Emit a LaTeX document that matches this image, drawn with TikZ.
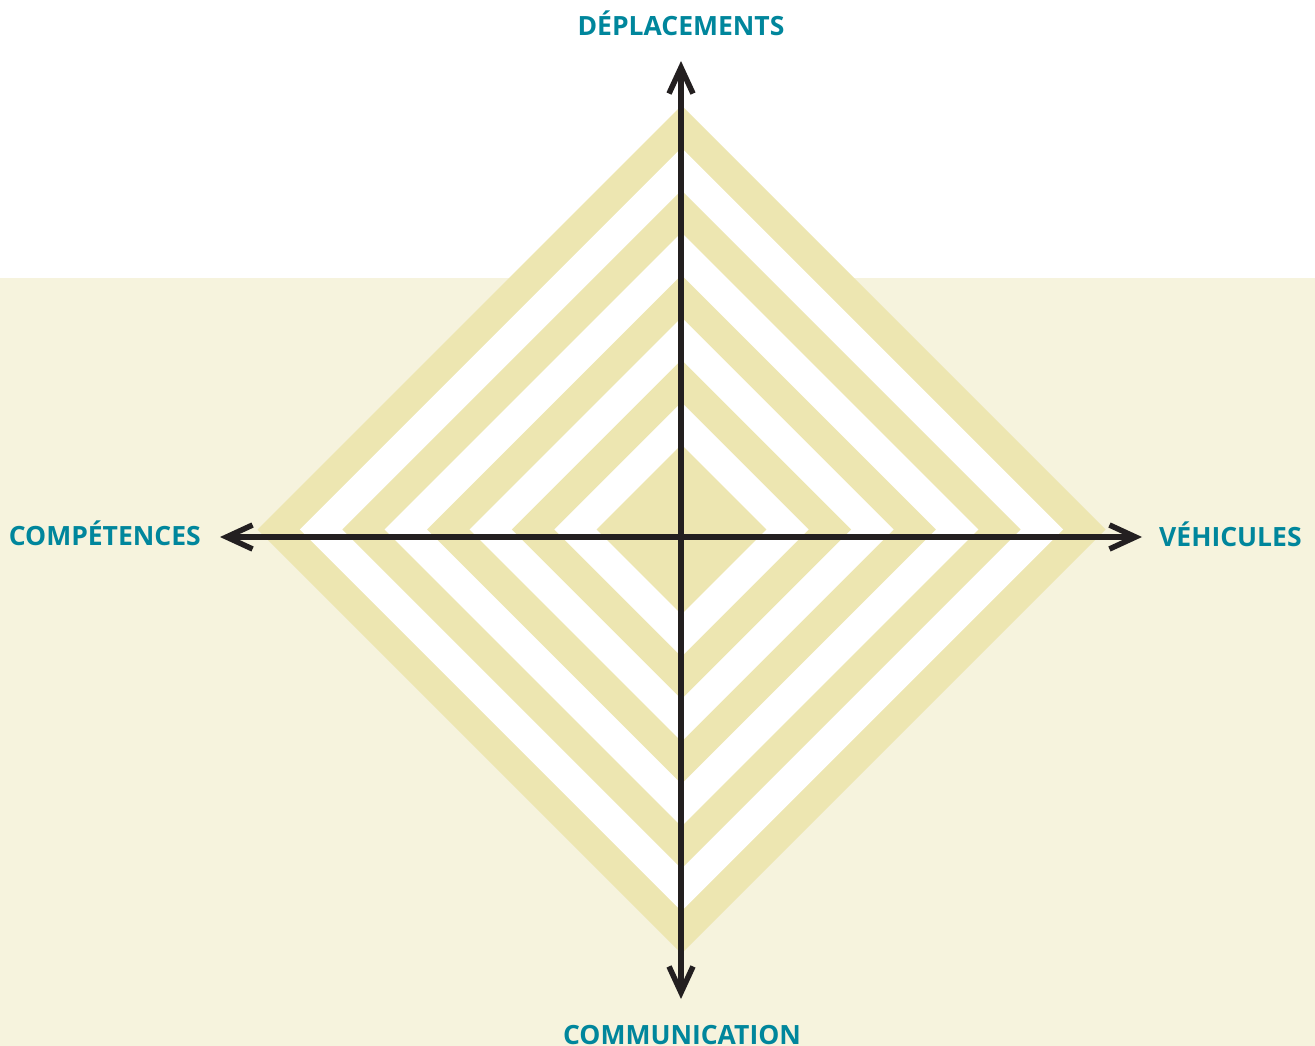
\documentclass[tikz,border=0pt]{standalone}
\usepackage{fontspec}
\setmainfont{Open Sans}
\usetikzlibrary{arrows.meta,calc}
\definecolor{paleBg}{RGB}{246,243,221}
\definecolor{khaki}{RGB}{237,230,177}
\definecolor{axisCol}{RGB}{35,31,32}
\definecolor{labelCol}{RGB}{0,134,156}
\tikzset{
  axisline/.style={draw=axisCol, line width=5.5pt, {Straight Barb[length=26pt,width=24pt]}-{Straight Barb[length=26pt,width=24pt]}},
  axislabel/.style={text=labelCol, font=\fontsize{26.5}{30}\selectfont\bfseries, inner sep=0pt},
}
\begin{document}
\begin{tikzpicture}[x=1pt,y=-1pt]
\useasboundingbox (0,0) rectangle (1315,1046);
\fill[white] (0,0) rectangle (1315,1046);
\fill[paleBg] (0,278) rectangle (1315,1046);
% concentric diamonds
\coordinate (C) at (681.5,529.5);
\foreach \r/\c in {424/khaki, 381.6/white, 339.2/khaki, 296.8/white, 254.4/khaki, 212/white, 169.6/khaki, 127.2/white, 84.8/khaki}{
  \fill[\c] ($(C)+(\r,0)$) -- ($(C)+(0,\r)$) -- ($(C)+(-\r,0)$) -- ($(C)+(0,-\r)$) -- cycle;
}
% axis end points
\coordinate (W) at (220,537);
\coordinate (E) at (1142,537);
\coordinate (N) at (681,61);
\coordinate (S) at (681,999);
\draw[axisline] (W) -- (E);
\draw[axisline] (S) -- (N);
% labels
\node[axislabel, anchor=base] (lblN) at (681,36) {DÉPLACEMENTS};
\node[axislabel, anchor=base east] (lblW) at (201,545) {COMPÉTENCES};
\node[axislabel, anchor=base west] (lblE) at (1159,546) {VÉHICULES};
\node[axislabel, anchor=base] (lblS) at (682,1044) {COMMUNICATION};
\end{tikzpicture}
\end{document}
